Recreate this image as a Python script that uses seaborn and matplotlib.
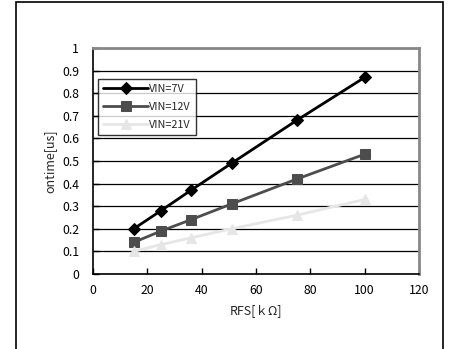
import seaborn as sns
import matplotlib.pyplot as plt
import pandas as pd
from matplotlib.patches import Rectangle

rfs = [15, 25, 36, 51, 75, 100]
vin7 = [0.20, 0.28, 0.37, 0.49, 0.68, 0.87]
vin12 = [0.14, 0.19, 0.24, 0.31, 0.42, 0.53]
vin21 = [0.10, 0.13, 0.16, 0.20, 0.26, 0.33]
series = ['VIN=7V', 'VIN=12V', 'VIN=21V']
colors = ['#000000', '#4d4d4d', '#e6e6e6']
markers = ['D', 's', '^']
msizes = [6, 7, 7]

df = pd.DataFrame({
    'RFS': rfs * 3,
    'ontime': vin7 + vin12 + vin21,
    'series': [s for s in series for _ in rfs],
})

sns.set_style('white')
plt.rcParams['font.family'] = ['Noto Sans CJK JP', 'DejaVu Sans']

fig = plt.figure(figsize=(4.49, 3.49), dpi=100)
ax = fig.add_axes([93/449, 1 - 274/349, 326/449, 226/349])

for s, c, m, ms in zip(series, colors, markers, msizes):
    sub = df[df['series'] == s]
    sns.lineplot(data=sub, x='RFS', y='ontime', ax=ax, color=c, marker=m,
                 markersize=ms, markeredgecolor=c, linewidth=2, label=s)

ax.set_xlim(0, 120)
ax.set_ylim(0, 1)
ax.set_xticks(range(0, 121, 20))
ax.set_yticks([i / 10 for i in range(11)])
ax.set_yticklabels(['0', '0.1', '0.2', '0.3', '0.4', '0.5', '0.6', '0.7', '0.8', '0.9', '1'])
ax.grid(axis='y', color='black', linewidth=0.9)
ax.grid(axis='x', visible=False)
ax.tick_params(axis='both', direction='in', length=4, width=1, labelsize=8.8,
               colors='black', left=True, bottom=True, pad=7)
ax.tick_params(axis='y', pad=10)
for side in ['left', 'bottom']:
    ax.spines[side].set_color('black')
    ax.spines[side].set_linewidth(1.2)
for side in ['top', 'right']:
    ax.spines[side].set_color('#888888')
    ax.spines[side].set_linewidth(2)

ax.set_xlabel('RFS[ｋΩ]', fontsize=9, labelpad=5)
ax.set_ylabel('ontime[us]', fontsize=9, labelpad=4)

leg = ax.legend(loc='upper left', bbox_to_anchor=(0.015, 0.863), borderaxespad=0,
                fontsize=7.8, frameon=True, fancybox=False, edgecolor='black',
                handlelength=4.2, borderpad=0.45, labelspacing=0.75, handletextpad=0.1)
leg.get_frame().set_linewidth(1)

fig.patches.append(Rectangle((16/449, -0.02), (443 - 16)/449, 1 - 2/349 + 0.02,
                             transform=fig.transFigure, fill=False,
                             edgecolor='black', linewidth=1.2))

fig.savefig('out.png', dpi=100)
